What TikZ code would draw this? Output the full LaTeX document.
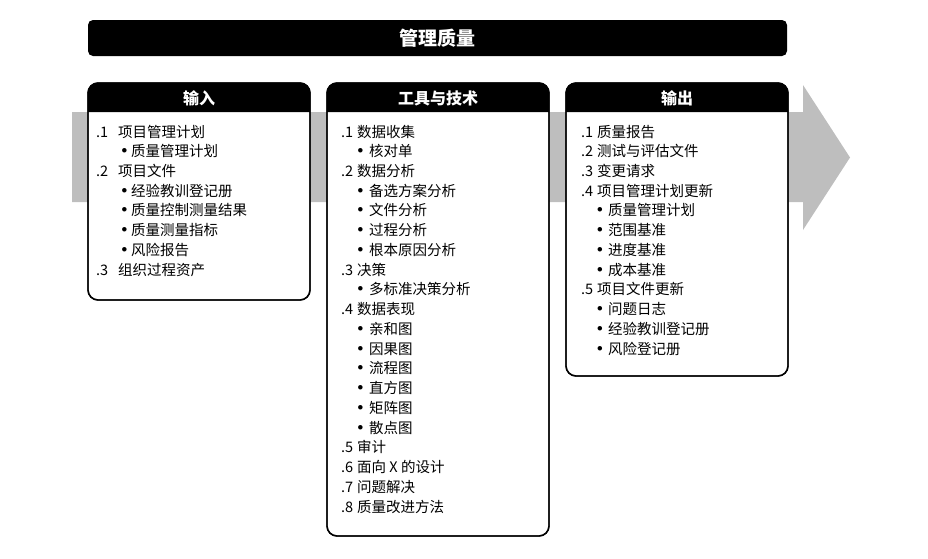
\documentclass[tikz,border=0pt]{standalone}
\usepackage{fontspec}
\setmainfont{Noto Sans CJK SC}
\newfontfamily\bulfont{DejaVu Sans}
\begin{document}
\begin{tikzpicture}[x=1pt,y=-1pt,
  colbox/.style={draw=black,line width=1.4pt,fill=white,rounded corners=10pt},
  hdrtext/.style={text=white,inner sep=0pt,font=\fontsize{16}{18}\selectfont\bfseries},
  item/.style={anchor=west,inner sep=0pt,font=\fontsize{14.5}{16}\selectfont,text height=11pt,text depth=3pt},
  bul/.style={anchor=center,inner sep=0pt,font=\bulfont\fontsize{15.5}{16}\selectfont}]
\useasboundingbox (0,0) rectangle (928,558);
% big gray arrow
\fill[fill={rgb,255:red,190;green,190;blue,190}] (72,112) -- (803,112) -- (803,85) -- (850,157.5) -- (803,230) -- (803,202) -- (72,202) -- cycle;
% title bar
\node[fill=black,rounded corners=5pt,minimum width=699pt,minimum height=36pt,inner sep=0pt,text=white,font=\fontsize{19}{21}\selectfont\bfseries] (title) at (437.5,38) {管理质量};
% column boxes
\draw[colbox] (88,83) rectangle (310,300);
\draw[colbox] (327,83) rectangle (549,536);
\draw[colbox] (566,83) rectangle (788,376);
% headers
\fill (88,112) {[rounded corners=10pt] -- (88,83) -- (310,83)} -- (310,112) -- cycle;
\fill (327,112) {[rounded corners=10pt] -- (327,83) -- (549,83)} -- (549,112) -- cycle;
\fill (566,112) {[rounded corners=10pt] -- (566,83) -- (788,83)} -- (788,112) -- cycle;
\draw[line width=1.4pt,rounded corners=10pt] (88,83) rectangle (310,300);
\draw[line width=1.4pt,rounded corners=10pt] (327,83) rectangle (549,536);
\draw[line width=1.4pt,rounded corners=10pt] (566,83) rectangle (788,376);
\node[hdrtext] (hin) at (199,98.5) {输入};
\node[hdrtext] (htt) at (438,98.5) {工具与技术};
\node[hdrtext] (hout) at (677,98.5) {输出};
% input items
\foreach \i/\n/\t in {0/.1/项目管理计划,2/.2/项目文件,7/.3/组织过程资产}{
  \pgfmathsetmacro\yy{133+19.74*\i}
  \node[item] (inn\i) at (96,\yy) {\n};
  \node[item] (int\i) at (118,\yy) {\t};}
\foreach \i/\t in {1/质量管理计划,3/经验教训登记册,4/质量控制测量结果,5/质量测量指标,6/风险报告}{
  \pgfmathsetmacro\yy{133+19.74*\i}
  \node[bul] (inb\i) at (124.5,\yy) {•};
  \node[item] (int\i) at (131,\yy) {\t};}
% tools items
\foreach \i/\n/\t in {0/.1/数据收集,2/.2/数据分析,7/.3/决策,9/.4/数据表现,16/.5/审计,17/.6/面向 X 的设计,18/.7/问题解决,19/.8/质量改进方法}{
  \pgfmathsetmacro\yy{133+19.74*\i}
  \node[item] (ttn\i) at (341,\yy) {\n};
  \node[item] (ttt\i) at (357,\yy) {\t};}
\foreach \i/\t in {1/核对单,3/备选方案分析,4/文件分析,5/过程分析,6/根本原因分析,8/多标准决策分析,10/亲和图,11/因果图,12/流程图,13/直方图,14/矩阵图,15/散点图}{
  \pgfmathsetmacro\yy{133+19.74*\i}
  \node[bul] (ttb\i) at (360.5,\yy) {•};
  \node[item] (ttt\i) at (369,\yy) {\t};}
% output items
\foreach \i/\n/\t in {0/.1/质量报告,1/.2/测试与评估文件,2/.3/变更请求,3/.4/项目管理计划更新,8/.5/项目文件更新}{
  \pgfmathsetmacro\yy{133+19.74*\i}
  \node[item] (outn\i) at (581,\yy) {\n};
  \node[item] (outt\i) at (597,\yy) {\t};}
\foreach \i/\t in {4/质量管理计划,5/范围基准,6/进度基准,7/成本基准,9/问题日志,10/经验教训登记册,11/风险登记册}{
  \pgfmathsetmacro\yy{133+19.74*\i}
  \node[bul] (outb\i) at (600,\yy) {•};
  \node[item] (outt\i) at (608,\yy) {\t};}
\end{tikzpicture}
\end{document}
